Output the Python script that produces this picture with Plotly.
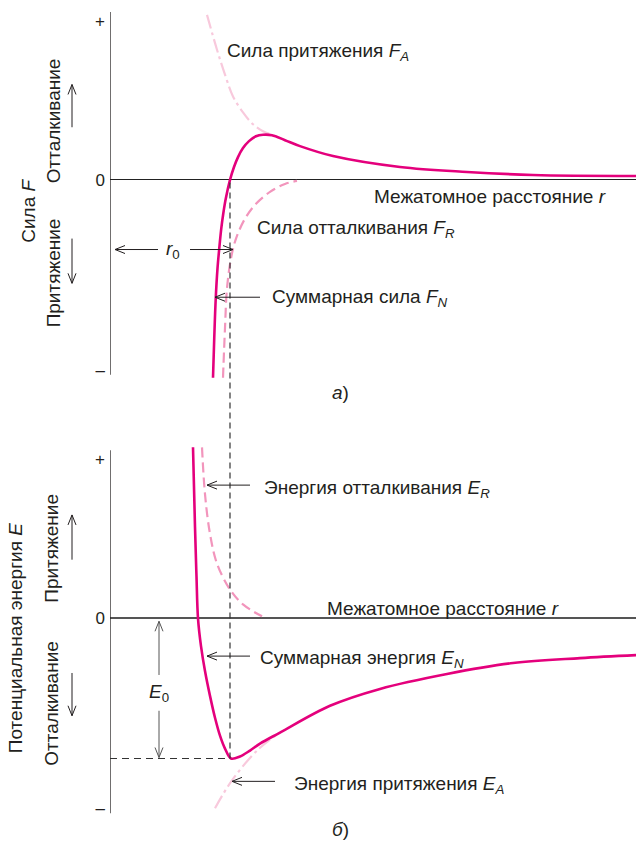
import plotly.graph_objects as go

# ---------------- data (arbitrary units) ----------------
# upper panel: force vs interatomic distance r
r_FN = [2.06, 2.085, 2.115, 2.15, 2.185, 2.225, 2.265, 2.315, 2.40, 2.48, 2.56, 2.66, 2.78, 2.92, 3.06, 3.24, 3.50, 3.80, 4.46, 5.80, 7.14, 8.46, 10.52]
F_N = [-3.98, -3.18, -2.38, -1.78, -1.38, -0.98, -0.68, -0.38, 0.0, 0.26, 0.46, 0.64, 0.78, 0.88, 0.91, 0.90, 0.80, 0.68, 0.48, 0.26, 0.16, 0.10, 0.08]

r_FA = [1.94, 2.14, 2.30, 2.46, 2.66, 2.86, 3.06, 3.26, 3.50]
F_A = [3.32, 2.62, 2.12, 1.68, 1.36, 1.12, 0.98, 0.90, 0.80]

r_FR = [2.26, 2.30, 2.34, 2.42, 2.52, 2.70, 2.92, 3.20, 3.50, 3.74]
F_R = [-3.98, -2.98, -2.18, -1.58, -1.18, -0.78, -0.48, -0.24, -0.08, -0.02]

# lower panel: potential energy vs r
r_EN = [1.66, 1.70, 1.73, 1.76, 1.82, 1.90, 2.00, 2.10, 2.20, 2.30, 2.42, 2.60, 2.80, 3.00, 3.40, 4.40, 5.40, 6.74, 8.06, 9.40, 10.52]
E_N = [3.44, 1.84, 0.84, 0.0, -0.56, -1.06, -1.56, -2.00, -2.36, -2.62, -2.82, -2.78, -2.66, -2.52, -2.30, -1.76, -1.42, -1.12, -0.90, -0.80, -0.74]

r_ER = [1.84, 1.90, 2.00, 2.14, 2.40, 2.66, 3.04]
E_R = [3.44, 2.50, 1.70, 1.10, 0.58, 0.28, 0.04]

r_EA = [2.10, 2.44, 2.94, 3.36]
E_A = [-3.82, -3.26, -2.66, -2.32]

r0 = 2.40          # equilibrium distance
E0 = -2.82         # minimum energy

tick_vals = [3.2, 0, -3.82]
tick_text = ["+", "0", "–"]

# ---------------- layout helpers ----------------
W, H = 636, 846
X_RANGE = [0, 10.52]
TOP_DOM = [1 - 381 / H, 1 - 12 / H]
TOP_RANGE = [-4.0, 3.38]
BOT_DOM = [1 - 818 / H, 1 - 448 / H]
BOT_RANGE = [-3.92, 3.48]

MAG = "#E4007C"
PINK_MID = "#F295BC"
PINK_LIGHT = "#F8C9DC"
INK = "#231F20"
FONT = "Liberation Sans, Arial, sans-serif"
FS = 19


def to_paper(v, dom, rng):
    return dom[0] + (v - rng[0]) / (rng[1] - rng[0]) * (dom[1] - dom[0])


fig = go.Figure()

# upper panel curves
fig.add_trace(go.Scatter(x=r_FA, y=F_A, mode="lines", line=dict(color=PINK_LIGHT, width=2.2, dash="14px,4px,3px,4px", shape="spline"),
                         xaxis="x", yaxis="y", hoverinfo="skip"))
fig.add_trace(go.Scatter(x=r_FR, y=F_R, mode="lines", line=dict(color=PINK_MID, width=2.2, dash="10px,5px", shape="spline"),
                         xaxis="x", yaxis="y", hoverinfo="skip"))
fig.add_trace(go.Scatter(x=r_FN, y=F_N, mode="lines", line=dict(color=MAG, width=2.6, shape="spline", smoothing=1.0),
                         xaxis="x", yaxis="y", hoverinfo="skip"))

# lower panel curves
fig.add_trace(go.Scatter(x=r_EA, y=E_A, mode="lines", line=dict(color=PINK_LIGHT, width=2.2, dash="14px,4px,3px,4px", shape="spline"),
                         xaxis="x2", yaxis="y2", hoverinfo="skip"))
fig.add_trace(go.Scatter(x=r_ER, y=E_R, mode="lines", line=dict(color=PINK_MID, width=2.2, dash="10px,5px", shape="spline"),
                         xaxis="x2", yaxis="y2", hoverinfo="skip"))
fig.add_trace(go.Scatter(x=r_EN, y=E_N, mode="lines", line=dict(color=MAG, width=2.6, shape="spline", smoothing=1.0),
                         xaxis="x2", yaxis="y2", hoverinfo="skip"))

shapes = []
# left axis lines
shapes.append(dict(type="line", xref="x", yref="paper", x0=0, x1=0, y0=1 - 377 / H, y1=1 - 12 / H, line=dict(color=INK, width=1.3)))
shapes.append(dict(type="line", xref="x2", yref="paper", x0=0, x1=0, y0=1 - 818 / H, y1=1 - 453 / H, line=dict(color=INK, width=1.3)))
# vertical dashed line through r0 from F=0 to the energy minimum
shapes.append(dict(type="line", xref="x", yref="paper", x0=r0, x1=r0,
                   y0=to_paper(E0, BOT_DOM, BOT_RANGE), y1=to_paper(0, TOP_DOM, TOP_RANGE),
                   line=dict(color="#333333", width=1.2, dash="6px,4px")))
# horizontal dashed line at E0
shapes.append(dict(type="line", xref="x2", yref="y2", x0=0, x1=r0, y0=E0, y1=E0,
                   line=dict(color="#333333", width=1.2, dash="7px,5px")))

# open chevron heads (pixel offsets relative to the arrow tip)
HEADS = {
    "left": "M 10,-4 L 0,0 L 10,4",
    "right": "M -10,-4 L 0,0 L -10,4",
    "up": "M -4,-10 L 0,0 L 4,-10",
    "down": "M -4,10 L 0,0 L 4,10",
}


def arrow(x, y, tx, ty, direction, xref="x", yref="y", color=INK):
    """Arrow from tail (tx, ty) to tip (x, y) with an open chevron head."""
    shapes.append(dict(type="line", xref=xref, yref=yref, x0=tx, y0=ty, x1=x, y1=y,
                       line=dict(color=color, width=1)))
    shapes.append(dict(type="path", xref=xref, yref=yref, xsizemode="pixel", ysizemode="pixel",
                       xanchor=x, yanchor=y, path=HEADS[direction], line=dict(color=color, width=1)))


ann = []


def text(x, y, s, xref="x", yref="y", xanchor="left", size=FS, angle=0):
    ann.append(dict(x=x, y=y, xref=xref, yref=yref, text=s, showarrow=False, xanchor=xanchor, yanchor="middle",
                    textangle=angle, font=dict(family=FONT, size=size, color=INK)))


# upper panel labels
text(2.30, 2.58, "Сила притяжения <i>F</i><sub><i>A</i></sub>")
text(5.24, -0.34, "Межатомное расстояние <i>r</i>")
text(2.90, -0.98, "Сила отталкивания <i>F</i><sub><i>R</i></sub>")
text(3.20, -2.38, "Суммарная сила <i>F</i><sub><i>N</i></sub>")
text(1.26, -1.40, "<i>r</i><sub>0</sub>", xanchor="center")
arrow(0.10, -1.40, 0.96, -1.40, "left")
arrow(2.46, -1.40, 1.60, -1.40, "right")
arrow(2.10, -2.36, 3.00, -2.36, "left")

# lower panel labels
text(3.04, 2.60, "Энергия отталкивания <i>E</i><sub><i>R</i></sub>", xref="x2", yref="y2")
text(4.30, 0.20, "Межатомное расстояние <i>r</i>", xref="x2", yref="y2")
text(2.96, -0.82, "Суммарная энергия <i>E</i><sub><i>N</i></sub>", xref="x2", yref="y2")
text(3.64, -3.36, "Энергия притяжения <i>E</i><sub><i>A</i></sub>", xref="x2", yref="y2")
text(0.98, -1.50, "<i>E</i><sub>0</sub>", xref="x2", yref="y2", xanchor="center")
arrow(1.94, 2.68, 2.80, 2.68, "left", xref="x2", yref="y2")
arrow(1.94, -0.76, 2.80, -0.76, "left", xref="x2", yref="y2")
arrow(2.44, -3.28, 3.30, -3.28, "left", xref="x2", yref="y2")
arrow(0.98, -0.06, 0.98, -1.14, "up", xref="x2", yref="y2", color="#555555")
arrow(0.98, -2.80, 0.98, -1.86, "down", xref="x2", yref="y2", color="#555555")

# panel captions
text(340 / W, 1 - 395 / H, "<i>а</i>)", xref="paper", yref="paper", xanchor="center")
text(340 / W, 1 - 834 / H, "<i>б</i>)", xref="paper", yref="paper", xanchor="center")

# side titles with direction arrows
text(29 / W, 1 - 212 / H, "Сила <i>F</i>", xref="paper", yref="paper", xanchor="center", angle=-90)
text(53 / W, 1 - 122 / H, "Отталкивание", xref="paper", yref="paper", xanchor="center", angle=-90)
text(53 / W, 1 - 275 / H, "Притяжение", xref="paper", yref="paper", xanchor="center", angle=-90)
arrow(72 / W, 1 - 85 / H, 72 / W, 1 - 128 / H, "up", xref="paper", yref="paper")
arrow(72 / W, 1 - 285 / H, 72 / W, 1 - 240 / H, "down", xref="paper", yref="paper")

text(15 / W, 1 - 642 / H, "Потенциальная энергия <i>E</i>", xref="paper", yref="paper", xanchor="center", angle=-90)
text(52 / W, 1 - 552 / H, "Притяжение", xref="paper", yref="paper", xanchor="center", angle=-90)
text(52 / W, 1 - 708 / H, "Отталкивание", xref="paper", yref="paper", xanchor="center", angle=-90)
arrow(72 / W, 1 - 518 / H, 72 / W, 1 - 563 / H, "up", xref="paper", yref="paper")
arrow(72 / W, 1 - 720 / H, 72 / W, 1 - 677 / H, "down", xref="paper", yref="paper")

axis_common = dict(showgrid=False, ticks="", showline=False)
fig.update_layout(
    width=W, height=H,
    margin=dict(l=0, r=0, t=0, b=0),
    paper_bgcolor="white", plot_bgcolor="white",
    showlegend=False,
    font=dict(family=FONT, size=FS, color=INK),
    xaxis=dict(domain=[110 / W, 1], range=X_RANGE, visible=False, anchor="y"),
    yaxis=dict(domain=TOP_DOM, range=TOP_RANGE, anchor="x", zeroline=True, zerolinecolor="#222222", zerolinewidth=1.2,
               tickvals=tick_vals, ticktext=tick_text, tickfont=dict(family=FONT, size=17, color=INK),
               ticklabelstandoff=4, **axis_common),
    xaxis2=dict(domain=[110 / W, 1], range=X_RANGE, visible=False, anchor="y2"),
    yaxis2=dict(domain=BOT_DOM, range=BOT_RANGE, anchor="x2", zeroline=True, zerolinecolor="#555555", zerolinewidth=1.6,
                tickvals=tick_vals, ticktext=tick_text, tickfont=dict(family=FONT, size=17, color=INK),
                ticklabelstandoff=4, **axis_common),
    shapes=shapes,
    annotations=ann,
)

fig.write_html("out.html", config={"displayModeBar": False},
               post_script="document.body.style.margin='0';document.body.style.overflow='hidden';")
